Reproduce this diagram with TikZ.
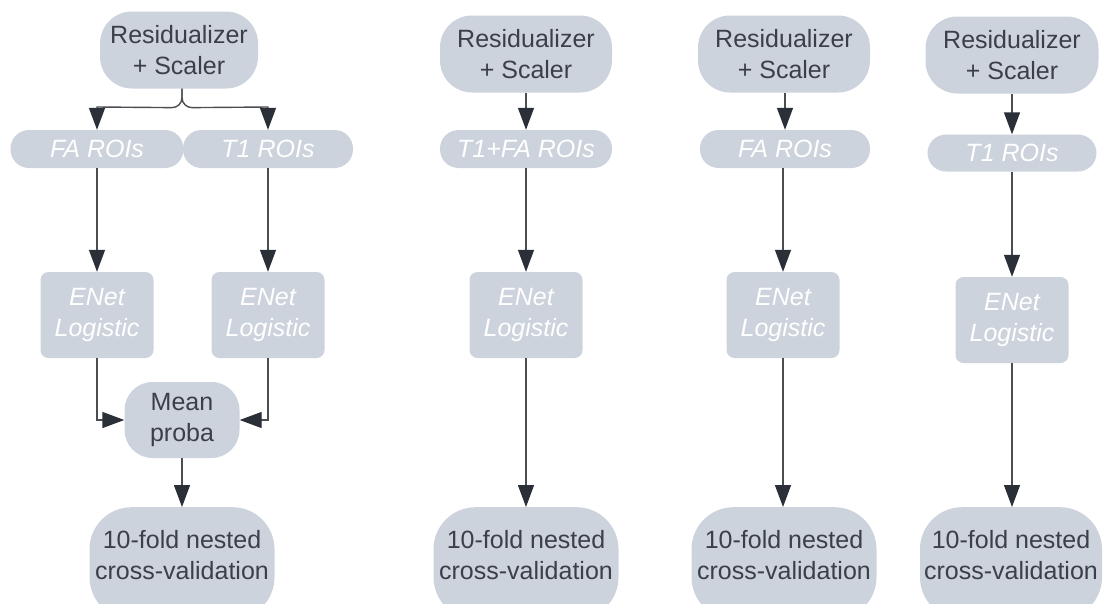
\documentclass[tikz,border=0pt]{standalone}
\usepackage{fontspec}
\setmainfont{Liberation Sans}
\usetikzlibrary{arrows.meta}
\definecolor{boxfill}{HTML}{CDD3DD}
\definecolor{darktext}{HTML}{3A3F49}
\definecolor{linec}{HTML}{4A4D52}
\definecolor{tipc}{HTML}{2A2F38}
\begin{document}
\begin{tikzpicture}[x=1pt,y=-1pt,
  every node/.style={inner sep=0pt, align=center, font=\fontsize{25}{31}\selectfont},
  darkbox/.style={fill=boxfill, text=darktext},
  litebox/.style={fill=boxfill, text=white, font=\fontsize{25}{31}\selectfont\itshape},
  rsbox/.style={darkbox, rounded corners=32pt, minimum width=158pt, minimum height=77pt},
  roibox/.style={litebox, rounded corners=18.5pt, minimum width=171pt, minimum height=38pt},
  enbox/.style={litebox, rounded corners=8pt, minimum width=113pt, minimum height=86pt},
  meanbox/.style={darkbox, rounded corners=28pt, minimum width=115pt, minimum height=76pt},
  cvbox/.style={darkbox, rounded corners=42pt, minimum width=185pt, minimum height=112pt, anchor=north},
  cvtext/.style={text=darktext},
  arr/.style={draw=linec, line width=1.4pt, -{Triangle[length=22pt,width=16pt,fill=tipc,color=tipc]}}
]
\useasboundingbox (0,0) rectangle (1103,603);
\clip (0,0) rectangle (1103,603);

% Column 1
\node[rsbox] (rs1) at (179,50) {Residualizer\\+ Scaler};
\node[roibox, minimum width=173pt] (fa1) at (97,149) {FA ROIs};
\node[roibox, minimum width=170pt] (t11) at (268,149) {T1 ROIs};
\node[enbox] (en1a) at (97,315) {ENet\\Logistic};
\node[enbox] (en1b) at (268,315) {ENet\\Logistic};
\node[meanbox] (mean) at (182,420) {Mean\\proba};
\node[cvbox] (cv1) at (182,507) {};
\node[cvtext] (cv1t) at ([yshift=8pt]cv1.center) {10-fold nested\\cross-validation};

% Column 2
\node[rsbox, minimum width=172pt] (rs2) at (526,54) {Residualizer\\+ Scaler};
\node[roibox, minimum width=172pt] (roi2) at (526,149) {T1+FA ROIs};
\node[enbox] (en2) at (526,315) {ENet\\Logistic};
\node[cvbox] (cv2) at (526,507) {};
\node[cvtext] (cv2t) at ([yshift=8pt]cv2.center) {10-fold nested\\cross-validation};

% Column 3
\node[rsbox, minimum width=172pt] (rs3) at (784,54) {Residualizer\\+ Scaler};
\node[roibox, minimum width=170pt] (roi3) at (785,149) {FA ROIs};
\node[enbox] (en3) at (783,315) {ENet\\Logistic};
\node[cvbox] (cv3) at (784,507) {};
\node[cvtext] (cv3t) at ([yshift=8pt]cv3.center) {10-fold nested\\cross-validation};

% Column 4
\node[rsbox, minimum width=173pt] (rs4) at (1012,55) {Residualizer\\+ Scaler};
\node[roibox, minimum width=169pt, minimum height=37pt] (roi4) at (1012,153) {T1 ROIs};
\node[enbox] (en4) at (1012,320) {ENet\\Logistic};
\node[cvbox, minimum width=182pt] (cv4) at (1011,507) {};
\node[cvtext] (cv4t) at ([yshift=8pt]cv4.center) {10-fold nested\\cross-validation};

% Connectors column 1
\coordinate (br) at ([xshift=3pt]rs1.south);
\draw[arr] (br) [rounded corners=10pt] -- ++(0,19) [sharp corners] -- (fa1.north |- 0,107) -- (fa1.north);
\draw[arr] (br) [rounded corners=10pt] -- ++(0,19) [sharp corners] -- (t11.north |- 0,107) -- (t11.north);
\draw[arr] (fa1) -- (en1a);
\draw[arr] (t11) -- (en1b);
\draw[arr] (en1a.south) |- (mean.west);
\draw[arr] (en1b.south) |- (mean.east);
\draw[arr] (mean) -- (cv1.north);

% Connectors columns 2-4
\draw[arr] (rs2) -- (roi2);
\draw[arr] (roi2) -- (en2);
\draw[arr] (en2) -- (cv2.north);
\draw[arr] (rs3.south -| roi3.north) -- (roi3);
\draw[arr] (roi3.south -| en3.north) -- (en3);
\draw[arr] (en3) -- (cv3.north -| en3.south);
\draw[arr] (rs4) -- (roi4);
\draw[arr] (roi4) -- (en4);
\draw[arr] (en4) -- (cv4.north -| en4.south);
\end{tikzpicture}
\end{document}
